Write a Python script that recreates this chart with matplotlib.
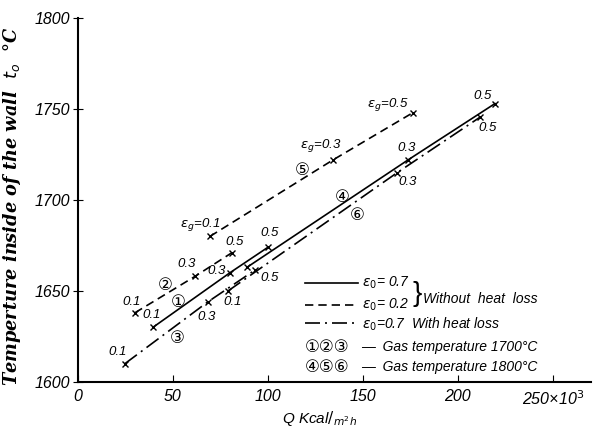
"""
Wall inner-surface temperature vs. heat flux Q for several gas emissivities.
"""

import matplotlib
matplotlib.use("Agg")
import matplotlib.pyplot as plt
from matplotlib.lines import Line2D

EPS_G = [0.1, 0.3, 0.5]

# curves 1-3: gas temperature 1700 C, curves 4-6: 1800 C
Q_1 = [39.5, 80.0, 100.0]
T_1 = [1630.0, 1660.0, 1674.0]
Q_2 = [30.0, 61.6, 81.0]
T_2 = [1638.0, 1658.0, 1671.0]
Q_3 = [24.7, 68.4, 93.2]
T_3 = [1610.0, 1644.0, 1661.5]
Q_4 = [89.0, 173.7, 219.5]
T_4 = [1663.0, 1722.0, 1753.0]
Q_5 = [69.5, 134.2, 176.3]
T_5 = [1680.0, 1722.0, 1748.0]
Q_6 = [79.0, 168.0, 211.6]
T_6 = [1650.0, 1715.0, 1745.5]

X_TICKS = [0, 50, 100, 150, 200, 250]
X_TICKLABELS = ["0", "50", "100", "150", "200", "250×10$^3$"]
Y_TICKS = [1600, 1650, 1700, 1750, 1800]

SOLID = "-"
DASHED = (0, (5, 3))
DASHDOT = (0, (9, 3, 1.2, 3))

FONT = "Liberation Sans"
CIRCLED = ["DejaVu Sans", "Noto Sans CJK JP"]

# (Q, T, linestyle, label offsets in pixels (None = no label), eps label prefix)
CURVES = [
    (Q_1, T_1, SOLID, [(-1, 12), (-13, 2), (2, 14)], ""),
    (Q_2, T_2, DASHED, [(-3, 11), (-8, 12), (3, 11)], ""),
    (Q_3, T_3, DASHDOT, [(-7, 12), (-1, -15), (15, -8)], ""),
    (Q_4, T_4, SOLID, [None, (-1, 12), (-12, 8)], ""),
    (Q_5, T_5, DASHED, [(-10, 12), (-12, 15), (-25, 8)], "$\\varepsilon_g$="),
    (Q_6, T_6, DASHDOT, [(5, -11), (11, -9), (8, -11)], ""),
]

# circled curve numbers (Q, T)
CIRCLE_TEXT = ["①", "②", "③", "④", "⑤", "⑥"]
CIRCLE_Q = [53.0, 45.8, 52.0, 139.0, 118.0, 147.0]
CIRCLE_T = [1644.0, 1653.0, 1624.0, 1701.5, 1716.5, 1692.0]


def main() -> None:
    fig = plt.figure(figsize=(5.95, 4.32), dpi=100)
    ax = fig.add_axes([0.131, 0.116, 0.862, 0.842])

    for q, t, ls, offsets, prefix in CURVES:
        ax.plot(q, t, color="black", lw=1.2, linestyle=ls,
                marker="x", ms=5, mew=1.0)
        for qi, ti, eps, off in zip(q, t, EPS_G, offsets):
            if off is None:
                continue
            ax.annotate(f"{prefix}{eps}", (qi, ti), xytext=off,
                        textcoords="offset pixels", ha="center", va="center",
                        fontsize=9.5, fontstyle="italic", family=FONT)

    for txt, q, t in zip(CIRCLE_TEXT, CIRCLE_Q, CIRCLE_T):
        ax.text(q, t, txt, ha="center", va="center", fontsize=12,
                family=CIRCLED)

    ax.set_xlim(0, 270)
    ax.set_ylim(1600, 1800)
    ax.set_xticks(X_TICKS)
    ax.set_xticklabels(X_TICKLABELS)
    ax.set_yticks(Y_TICKS)
    for lab in ax.get_xticklabels() + ax.get_yticklabels():
        lab.set_fontstyle("italic")
        lab.set_family(FONT)
        lab.set_fontsize(11.5)
    ax.tick_params(axis="x", direction="in", length=5, pad=5)
    ax.tick_params(axis="y", direction="inout", length=7, pad=2)

    for side in ("top", "right"):
        ax.spines[side].set_visible(False)
    for side in ("left", "bottom"):
        ax.spines[side].set_linewidth(1.5)

    ax.set_ylabel("Temperture inside of the wall  $t_o$  °C",
                  fontsize=12.8, fontstyle="italic", fontweight="bold",
                  family="DejaVu Serif")
    ax.yaxis.set_label_coords(-0.108, 0.484)
    ax.set_xlabel("Q Kcal$/_{m^2 h}$", fontsize=11, fontstyle="italic",
                  family=FONT)
    ax.xaxis.set_label_coords(0.472, -0.075)

    # hand-drawn style legend
    tr = ax.transAxes
    rows = [(0.272, SOLID), (0.2115, DASHED), (0.162, DASHDOT)]
    for y, ls in rows:
        ax.add_line(Line2D([0.442, 0.546], [y, y], transform=tr,
                           color="black", lw=1.2, linestyle=ls))
    txt_kw = dict(transform=tr, va="center", ha="left", fontsize=10,
                  fontstyle="italic", family=FONT)
    ax.text(0.553, 0.272, "$\\varepsilon_0$= 0.7", **txt_kw)
    ax.text(0.553, 0.2115, "$\\varepsilon_0$= 0.2", **txt_kw)
    ax.text(0.652, 0.242, "}", transform=tr, va="center", ha="left",
            fontsize=20, family=FONT)
    ax.text(0.672, 0.228, "Without  heat  loss", **txt_kw)
    ax.text(0.553, 0.157, "$\\varepsilon_0$=0.7  With heat loss", **txt_kw)
    ax.text(0.442, 0.096, "①②③", transform=tr, va="center", ha="left",
            fontsize=12, family=CIRCLED)
    ax.text(0.442, 0.041, "④⑤⑥", transform=tr, va="center", ha="left",
            fontsize=12, family=CIRCLED)
    ax.text(0.553, 0.096, "—  Gas temperature 1700°C", **txt_kw)
    ax.text(0.553, 0.041, "—  Gas temperature 1800°C", **txt_kw)

    fig.savefig("out.png", dpi=100)


if __name__ == "__main__":
    main()
